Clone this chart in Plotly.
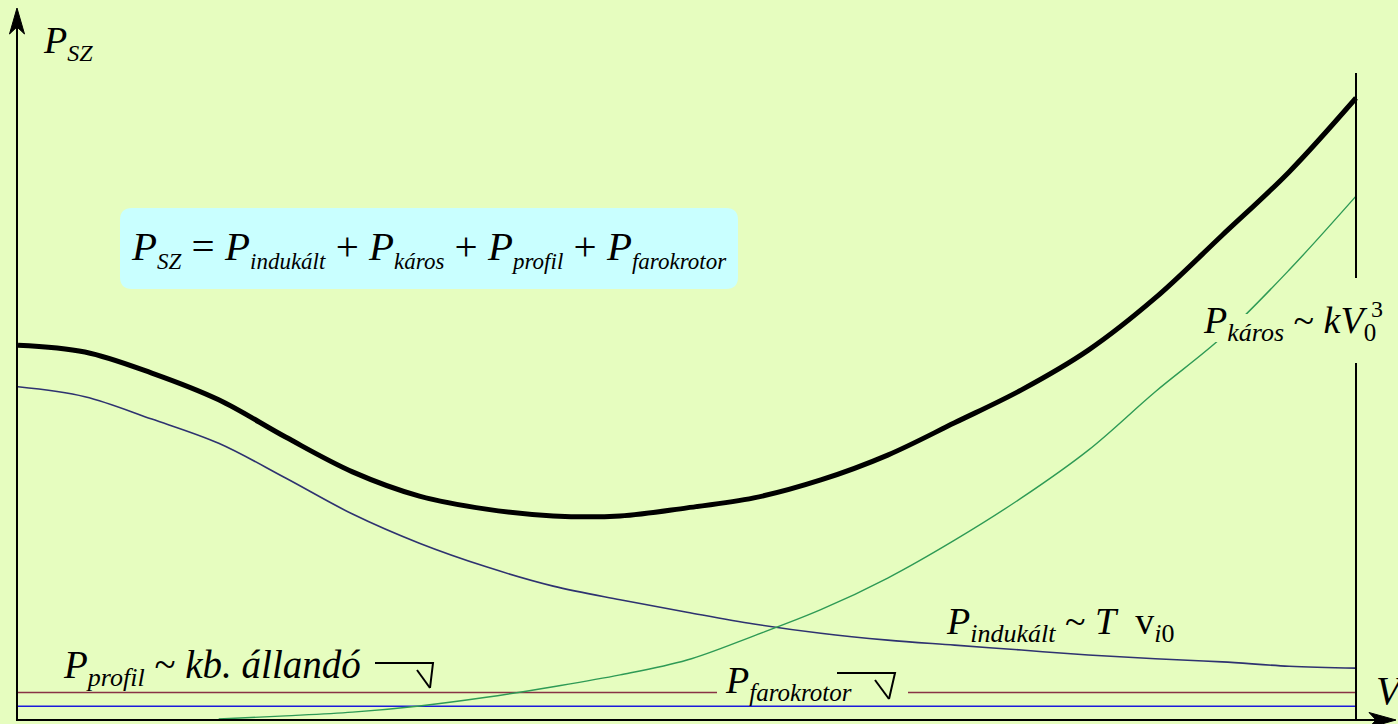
import plotly.graph_objects as go

# ---- data: helicopter power components vs forward speed ----
speed = [0, 5, 10, 15, 20, 25, 30, 35, 40, 45, 50,
         55, 60, 65, 70, 75, 80, 85, 90, 95, 100]

p_total = [60.2, 59.1, 55.7, 51.4, 45.4, 39.8, 35.9, 33.8, 32.7, 32.7, 34.0,
           35.6, 38.5, 42.5, 47.7, 53.0, 59.4, 67.8, 77.9, 88.1, 100.0]

p_induced = [53.5, 51.9, 48.3, 44.4, 38.8, 33.0, 28.3, 24.5, 21.4, 19.2, 17.2,
             15.3, 13.8, 12.7, 11.9, 11.1, 10.3, 9.7, 9.2, 8.5, 8.2]

parasite_speed = [15, 20, 25, 30, 35, 40, 45, 50,
                  55, 60, 65, 70, 75, 80, 85, 90, 95, 100]
p_parasite = [0.0, 0.5, 1.1, 2.1, 3.5, 5.2, 7.1, 9.5,
              13.4, 17.6, 22.7, 28.8, 35.6, 43.3, 52.7, 61.5, 72.3, 84.2]

p_profile = [4.27, 4.27]
p_tail_rotor = [2.05, 2.05]
flat_speed = [0, 100]

BG = "#E6FDBF"
FONT = "Liberation Serif"
W, H = 1398, 724


def X(px):
    return px / W


def Y(py):
    return 1 - py / H


def path(points, close=False):
    s = ""
    for i, (a, b) in enumerate(points):
        s += ("M " if i == 0 else " L ") + f"{X(a):.5f},{Y(b):.5f}"
    if close:
        s += " Z"
    return s


def rounded_rect(x0, y0, x1, y1, r):
    def p(a, b):
        return f"{X(a):.5f},{Y(b):.5f}"
    return (f"M {p(x0 + r, y0)} L {p(x1 - r, y0)} Q {p(x1, y0)} {p(x1, y0 + r)}"
            f" L {p(x1, y1 - r)} Q {p(x1, y1)} {p(x1 - r, y1)}"
            f" L {p(x0 + r, y1)} Q {p(x0, y1)} {p(x0, y1 - r)}"
            f" L {p(x0, y0 + r)} Q {p(x0, y0)} {p(x0 + r, y0)} Z")


def sub(text, size):
    return f'<sub><span style="font-size:{size}px">{text}</span></sub>'


fig = go.Figure()

fig.add_trace(go.Scatter(x=flat_speed, y=p_profile, mode="lines",
                         line=dict(color="#883345", width=1.6)))
fig.add_trace(go.Scatter(x=flat_speed, y=p_tail_rotor, mode="lines",
                         line=dict(color="#1A1ADB", width=1.6)))
fig.add_trace(go.Scatter(x=speed, y=p_induced, mode="lines",
                         line=dict(color="#2E3270", width=1.6, shape="spline", smoothing=1.0)))
fig.add_trace(go.Scatter(x=parasite_speed, y=p_parasite, mode="lines",
                         line=dict(color="#2E9A55", width=1.4, shape="spline", smoothing=1.0)))
fig.add_trace(go.Scatter(x=speed, y=p_total, mode="lines",
                         line=dict(color="black", width=5, shape="spline", smoothing=1.0)))

# pixel scale: V=0 at x=18, V=100 at x=1356; P=0 at y=719, 6.21 px per unit
sx = (1356 - 18) / 100
sy = 6.21
fig.update_xaxes(range=[-18 / sx, (W - 18) / sx], visible=False, fixedrange=True)
fig.update_yaxes(range=[(719 - H) / sy, 719 / sy], visible=False, fixedrange=True)

shapes = []
# text-box fills that interrupt lines
shapes.append(dict(type="rect", xref="paper", yref="paper", x0=X(717), x1=X(908),
                   y0=Y(699), y1=Y(686), fillcolor=BG, line=dict(width=0)))
shapes.append(dict(type="rect", xref="paper", yref="paper", x0=X(1200), x1=X(1252),
                   y0=Y(342), y1=Y(314), fillcolor=BG, line=dict(width=0)))
# formula box
shapes.append(dict(type="path", xref="paper", yref="paper",
                   path=rounded_rect(120, 208, 738, 289, 12),
                   fillcolor="#C9FFFF", line=dict(width=0)))
# axes
shapes.append(dict(type="path", xref="paper", yref="paper",
                   path=path([(17, 720), (17, 20)]), line=dict(color="black", width=2)))
shapes.append(dict(type="path", xref="paper", yref="paper",
                   path=path([(17, 8), (9.5, 34), (17, 27), (24.5, 34)], close=True),
                   fillcolor="black", line=dict(color="black", width=1)))
shapes.append(dict(type="path", xref="paper", yref="paper",
                   path=path([(16, 720), (1385, 720)]), line=dict(color="black", width=2)))
shapes.append(dict(type="path", xref="paper", yref="paper",
                   path=path([(1396, 720), (1369, 712.5), (1376, 720), (1369, 727.5)], close=True),
                   fillcolor="black", line=dict(color="black", width=1)))
# right boundary line
shapes.append(dict(type="path", xref="paper", yref="paper",
                   path=path([(1356, 73), (1356, 278)]), line=dict(color="black", width=2)))
shapes.append(dict(type="path", xref="paper", yref="paper",
                   path=path([(1356, 363), (1356, 720)]), line=dict(color="black", width=2)))
# bent pointer arrows
for pts, wing in [([(375, 663), (433, 663), (430, 688)], [(417, 670), (430, 688)]),
                  ([(837, 673), (895, 673), (889, 699)], [(875, 680), (889, 699)])]:
    shapes.append(dict(type="path", xref="paper", yref="paper",
                       path=path(pts), line=dict(color="black", width=2)))
    shapes.append(dict(type="path", xref="paper", yref="paper",
                       path=path(wing), line=dict(color="black", width=2)))

for s in shapes:
    s["layer"] = "above"
fig.update_layout(shapes=shapes)


def label(text, px, py, size, xanchor="left"):
    fig.add_annotation(text=text, xref="paper", yref="paper", x=X(px), y=Y(py),
                       xanchor=xanchor, yanchor="middle", showarrow=False,
                       font=dict(family=FONT, size=size, color="black"))


label("<i>P</i>" + sub("<i>SZ</i>", 24), 41, 43, 38)
label("<i>P</i>" + sub("<i>SZ</i>", 23) + " = <i>P</i>" + sub("<i>indukált</i>", 23)
      + " + <i>P</i>" + sub("<i>káros</i>", 23) + " + <i>P</i>" + sub("<i>profil</i>", 23)
      + " + <i>P</i>" + sub("<i>farokrotor</i>", 23), 429, 248, 41, xanchor="center")
label("<i>P</i>" + sub("<i>káros</i>", 26) + " ~ <i>kV</i>" + sub("0", 25), 1201, 323, 38)
label("3", 1369, 309, 24)
label("<i>P</i>" + sub("<i>indukált</i>", 26) + " ~ <i>T</i>&nbsp; v" + sub("<i>i</i>0", 26),
      944, 624, 38)
label("<i>P</i>" + sub("<i>profil</i>", 26) + " ~ <i>kb. állandó</i>", 61, 667, 39)
label("<i>P</i>" + sub("<i>farokrotor</i>", 25), 723, 682, 38)
label("<i>V</i>", 1374, 690, 40)

fig.update_layout(width=W, height=H, margin=dict(l=0, r=0, t=0, b=0),
                  paper_bgcolor=BG, plot_bgcolor=BG, showlegend=False)

fig.write_html("out.html", config={"displayModeBar": False})
